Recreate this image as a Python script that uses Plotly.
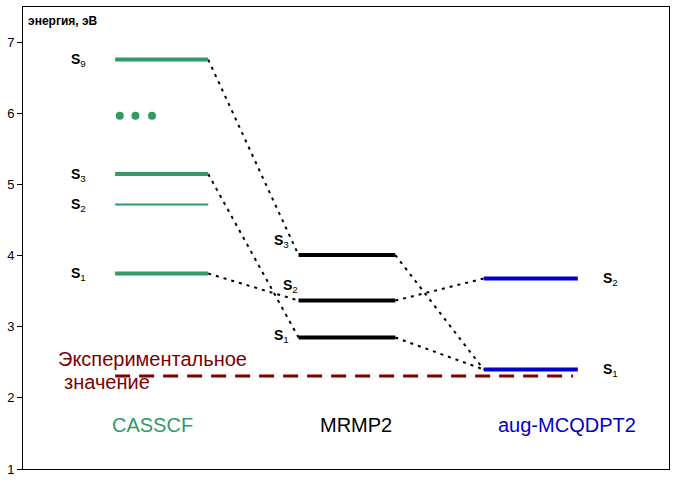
import plotly.graph_objects as go

# Data
methods = ["CASSCF", "MRMP2", "aug-MCQDPT2"]
casscf_states = ["9", "3", "2", "1"]
casscf_energy = [6.76, 5.15, 4.72, 3.75]
mrmp2_states = ["3", "2", "1"]
mrmp2_energy = [4.01, 3.37, 2.85]
aug_states = ["2", "1"]
aug_energy = [3.68, 2.40]
experimental = 2.31
ellipsis_energy = 5.97
# correlations: (from method idx, from state, to method idx, to state)
links = [
    (0, "9", 1, "3"),
    (0, "3", 1, "1"),
    (0, "1", 1, "2"),
    (1, "3", 2, "1"),
    (1, "2", 2, "2"),
    (1, "1", 2, "1"),
]

GREEN = "#339966"
BLUE = "#0000CC"
DRED = "#800000"
FONT = "Liberation Sans, Arial, sans-serif"

x_left = [1.0, 2.99, 5.0]
x_right = [2.01, 4.04, 6.02]
colors = [GREEN, "black", BLUE]

levels = [
    dict(zip(casscf_states, casscf_energy)),
    dict(zip(mrmp2_states, mrmp2_energy)),
    dict(zip(aug_states, aug_energy)),
]

fig = go.Figure()

# dotted correlation lines
for m1, s1, m2, s2 in links:
    fig.add_trace(go.Scatter(
        x=[x_right[m1], x_left[m2]], y=[levels[m1][s1], levels[m2][s2]],
        mode="lines", line=dict(color="black", width=2, dash="3px,5px"),
        hoverinfo="skip", showlegend=False))

# experimental dashed line
fig.add_trace(go.Scatter(
    x=[x_left[0], 5.97], y=[experimental, experimental], mode="lines",
    line=dict(color=DRED, width=3, dash="15px,9px"),
    hoverinfo="skip", showlegend=False))

# levels
for mi, lv in enumerate(levels):
    for st, e in lv.items():
        w = 2 if (mi == 0 and st == "2") else 4
        fig.add_trace(go.Scatter(
            x=[x_left[mi], x_right[mi]], y=[e, e], mode="lines",
            line=dict(color=colors[mi], width=w),
            hoverinfo="skip", showlegend=False))

# ellipsis
fig.add_trace(go.Scatter(
    x=[1.05, 1.22, 1.40], y=[ellipsis_energy] * 3, mode="markers",
    marker=dict(color=GREEN, size=8), hoverinfo="skip", showlegend=False))

ann = []
def slabel(x, y, n):
    ann.append(dict(x=x, y=y, xref="x", yref="y", showarrow=False,
                    text="<b>S</b><sub>%s</sub>" % n,
                    font=dict(family=FONT, size=14, color="black"),
                    xanchor="center", yanchor="middle"))

for st, e in zip(casscf_states, casscf_energy):
    slabel(0.6, e - 0.01, st)
mr_label_pos = {"3": (2.8, 4.21), "2": (2.9, 3.57), "1": (2.8, 2.87)}
for st in mrmp2_states:
    slabel(*mr_label_pos[st], st)
for st, e in zip(aug_states, aug_energy):
    slabel(6.37, e - 0.01, st)

method_x = [1.4, 3.61, 5.9]
for name, mx, c in zip(methods, method_x, colors):
    ann.append(dict(x=mx, y=1.62, xref="x", yref="y", showarrow=False,
                    text=name, font=dict(family=FONT, size=20, color=c),
                    xanchor="center", yanchor="middle"))

ann.append(dict(x=0.36, y=2.55, xref="x", yref="y", showarrow=False,
                text="Экспериментальное", font=dict(family=FONT, size=20, color=DRED),
                xanchor="left", yanchor="middle"))
ann.append(dict(x=0.42, y=2.22, xref="x", yref="y", showarrow=False,
                text="значение", font=dict(family=FONT, size=20, color=DRED),
                xanchor="left", yanchor="middle"))
ann.append(dict(x=0.03, y=7.31, xref="x", yref="y", showarrow=False,
                text="<b>энергия, эВ</b>", font=dict(family=FONT, size=12, color="black"),
                xanchor="left", yanchor="middle"))

fig.update_layout(
    width=677, height=482,
    margin=dict(l=23, r=8, t=7, b=13),
    paper_bgcolor="white", plot_bgcolor="white",
    annotations=ann,
    xaxis=dict(range=[0, 7.01], showgrid=False, zeroline=False, showticklabels=False,
               ticks="", showline=True, linecolor="black", linewidth=1, mirror=True,
               automargin=False),
    yaxis=dict(range=[1, 7.5], showgrid=False, zeroline=False,
               tickvals=[1, 2, 3, 4, 5, 6, 7], ticks="outside", ticklen=5,
               tickcolor="black", tickfont=dict(family=FONT, size=13, color="black"),
               showline=True, linecolor="black", linewidth=1, mirror=True,
               automargin=False),
)

fig.write_html("out.html", config={"displayModeBar": False},
               post_script="document.body.style.margin='0';document.body.style.overflow='hidden';")
